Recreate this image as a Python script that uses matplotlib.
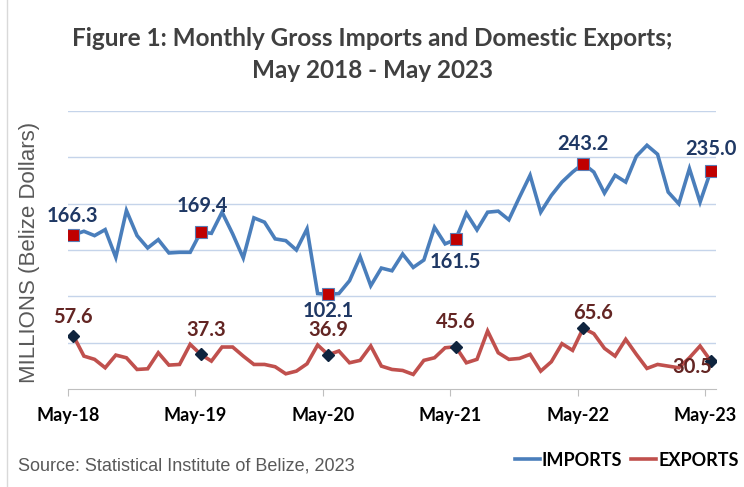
import numpy as np
import matplotlib.pyplot as plt
from matplotlib.lines import Line2D

months = 61  # May-18 .. May-23
tick_labels = ["May-18", "May-19", "May-20", "May-21", "May-22", "May-23"]

imports = [166.3, 170.2, 165.5, 172.0, 142.0, 192.6, 165.5, 152.2, 161.2, 146.8, 147.5, 147.5,
           169.4, 168.0, 190.8, 167.4, 141.4, 184.7, 180.0, 162.0, 160.1, 150.0, 172.8, 103.0,
           102.1, 103.0, 116.8, 142.8, 111.4, 130.5, 127.6, 145.7, 131.2, 139.2, 174.5, 156.6,
           161.5, 189.7, 171.7, 190.8, 191.9, 182.6, 207.0, 230.6, 190.8, 208.9, 223.3, 234.1,
           243.2, 234.1, 211.4, 230.6, 223.3, 251.1, 263.0, 253.3, 212.5, 199.9, 237.8, 201.6,
           235.0]
exports = [57.6, 35.5, 32.0, 22.9, 36.6, 33.7, 21.1, 21.8, 39.1, 25.8, 26.5, 48.2,
           37.3, 30.1, 45.3, 45.3, 35.5, 26.5, 26.5, 24.0, 16.4, 19.3, 27.2, 47.5,
           36.9, 41.0, 28.3, 30.9, 46.4, 24.7, 21.1, 20.0, 15.7, 30.9, 33.7, 44.5,
           45.6, 28.3, 32.0, 62.6, 39.1, 32.0, 33.0, 37.4, 19.3, 29.4, 48.9, 41.7,
           65.6, 59.7, 43.9, 35.5, 53.6, 37.4, 22.2, 26.5, 24.7, 22.9, 33.7, 46.4,
           30.5]
marked = [0, 12, 24, 36, 48, 60]
imp_offsets = [(-1, 19), (2, 26), (0, -17), (0, -23), (0, 20), (0, 22)]
exp_offsets = [(0, 19), (5, 24), (0, 25), (0, 25), (10, 15), (-18, -6)]

blue = "#4A7EBB"
red = "#C0504D"
imp_lab = "#1F3864"
exp_lab = "#632523"

fig = plt.figure(figsize=(7.44, 4.87), dpi=100)
ax = fig.add_axes([68/744, 1-389/487, 648/744, 278/487])
x = np.arange(months)

ax.set_xlim(-0.5, 60.5)
ax.set_ylim(0, 300)
ax.set_yticks([50, 100, 150, 200, 250, 300])
ax.yaxis.grid(True, color="#C5D4EA", lw=1)
ax.set_axisbelow(True)
ax.tick_params(axis="y", length=0, labelleft=False)
for s in ["top", "right", "left"]:
    ax.spines[s].set_visible(False)
ax.spines["bottom"].set_color("#BFBFBF")
ax.set_xticks(np.arange(0, 61, 12) - 0.5)
ax.set_xticklabels(tick_labels, fontfamily="Lato", fontweight="bold", fontsize=13)
ax.tick_params(axis="x", length=5, color="#BFBFBF", pad=8)

ax.plot(x, imports, color=blue, lw=2.6, solid_joinstyle="miter", zorder=3)
ax.plot(x, exports, color=red, lw=2.6, solid_joinstyle="miter", zorder=3)
ax.plot(marked, [imports[i] for i in marked], ls="none", marker="s", ms=8.5,
        mfc="#C00000", mec="#5B7DB5", mew=0.8, zorder=4)
ax.plot(marked, [exports[i] for i in marked], ls="none", marker="D", ms=6,
        mfc="#0F243E", mec="#0F243E", zorder=4)

for i, (dx, dy) in zip(marked, imp_offsets):
    ax.annotate(f"{imports[i]:.1f}", (i, imports[i]), xytext=(dx*0.72, dy*0.72),
                textcoords="offset points", ha="center", va="center",
                fontfamily="Lato", fontweight="bold", fontsize=14.5, color=imp_lab, zorder=5)
for i, (dx, dy) in zip(marked, exp_offsets):
    ax.annotate(f"{exports[i]:.1f}", (i, exports[i]), xytext=(dx*0.72, dy*0.72),
                textcoords="offset points", ha="center", va="center",
                fontfamily="Lato", fontweight="bold", fontsize=14.5, color=exp_lab, zorder=5)

fig.text(0.5, 1-38/487, "Figure 1: Monthly Gross Imports and Domestic Exports;",
         ha="center", va="center", fontfamily="Lato", fontweight="bold", fontsize=17.5, color="#404040")
fig.text(0.5, 1-70/487, "May 2018 - May 2023",
         ha="center", va="center", fontfamily="Lato", fontweight="bold", fontsize=17.5, color="#404040")
fig.text(30/744, 1-252/487, "MILLIONS (Belize Dollars)", rotation=90, ha="center", va="center",
         fontfamily="Liberation Sans", fontsize=16, color="#595959")
fig.text(18/744, 1-466/487, "Source: Statistical Institute of Belize, 2023", ha="left", va="center",
         fontfamily="Liberation Sans", fontsize=13, color="#595959")

handles = [Line2D([], [], color=blue, lw=2.6), Line2D([], [], color=red, lw=2.6)]
leg = fig.legend(handles, ["IMPORTS", "EXPORTS"], loc="center right",
                 bbox_to_anchor=(755/744, 1-460/487), ncol=2, frameon=False,
                 handlelength=1.4, handletextpad=0.1, columnspacing=0.5,
                 prop={"family": "Lato", "weight": "bold", "size": 13})

fig.add_artist(Line2D([7/744, 7/744], [0, 1], transform=fig.transFigure, color="#D9D9D9", lw=1))

fig.savefig("out.png", dpi=100)
